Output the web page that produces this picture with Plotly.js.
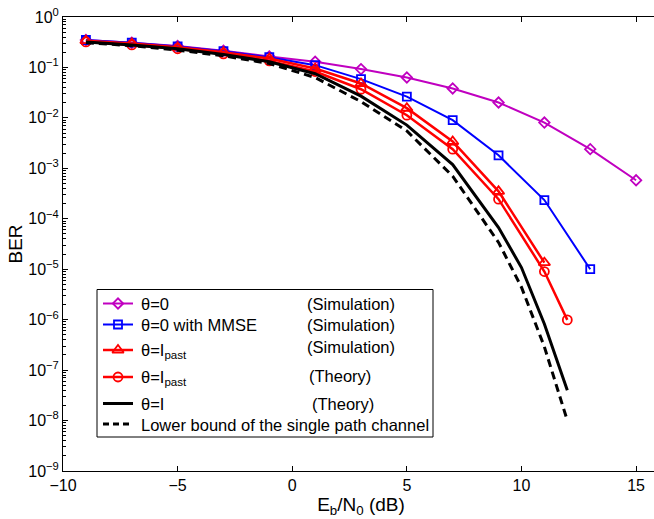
<!DOCTYPE html>
<html>
<head>
<meta charset="utf-8">
<script src="https://cdn.plot.ly/plotly-3.0.1.min.js"></script>
<style>
html,body{margin:0;padding:0;overflow:hidden;background:#fff;}
#chart{width:662px;height:519px;}
</style>
</head>
<body>
<div id="chart"></div>
<script>
// ---- data ----
const ebn0Sim = [-9, -7, -5, -3, -1, 1, 3, 5, 7, 9, 11, 13, 15];
const berTheta0 = [0.35, 0.31, 0.265, 0.215, 0.165, 0.13, 0.0927, 0.0633, 0.0383, 0.0202, 0.00807, 0.0024, 0.00058];

const ebn0Mmse = [-9, -7, -5, -3, -1, 1, 3, 5, 7, 9, 11, 13];
const berMmse = [0.35, 0.31, 0.26, 0.21, 0.16, 0.111, 0.0586, 0.0265, 0.0090, 0.00181, 2.35e-4, 1.0e-5];

const ebn0PastSim = [-9, -7, -5, -3, -1, 1, 3, 5, 7, 9, 11];
const berPastSim = [0.34, 0.30, 0.25, 0.20, 0.15, 0.0955, 0.048, 0.0156, 0.0034, 3.5e-4, 1.35e-5];

const ebn0PastTh = [-9, -7, -5, -3, -1, 1, 3, 5, 7, 9, 11, 12];
const berPastTh = [0.32, 0.28, 0.235, 0.185, 0.135, 0.083, 0.037, 0.0113, 0.0024, 2.45e-4, 9.0e-6, 9.9e-7];

const ebn0Th = [-9, -7, -5, -3, -1, 1, 3, 5, 7, 9, 10, 11, 12];
const berIdentTh = [0.32, 0.28, 0.235, 0.18, 0.13, 0.075, 0.027, 0.0072, 1.19e-3, 6.7e-5, 1.08e-5, 8.2e-7, 4.0e-8];
const berLowerBound = [0.31, 0.27, 0.22, 0.17, 0.12, 0.063, 0.021, 0.0055, 7.0e-4, 3.4e-5, 4.4e-6, 2.9e-7, 1.0e-8];

const xTickVals = [-10, -5, 0, 5, 10, 15];
const yTickVals = [1, 1e-1, 1e-2, 1e-3, 1e-4, 1e-5, 1e-6, 1e-7, 1e-8, 1e-9];
const yTickText = ['10<sup>0</sup>', '10<sup>−1</sup>', '10<sup>−2</sup>', '10<sup>−3</sup>', '10<sup>−4</sup>',
                   '10<sup>−5</sup>', '10<sup>−6</sup>', '10<sup>−7</sup>', '10<sup>−8</sup>', '10<sup>−9</sup>'];

const seriesLabels = ['θ=0', 'θ=0 with MMSE', 'θ=I<sub>past</sub>', 'θ=I<sub>past</sub>', 'θ=I', 'Lower bound of the single path channel'];
const seriesNotes = ['(Simulation)', '(Simulation)', '(Simulation)', '(Theory)', '(Theory)', ''];

// ---- styles ----
const FONT = 'Liberation Sans, Arial, Helvetica, sans-serif';
const styles = [
  {color: '#c000c0', width: 2, dash: 'solid', symbol: 'diamond-open', size: 8},
  {color: '#0000ff', width: 2, dash: 'solid', symbol: 'square-open', size: 8},
  {color: '#ff0000', width: 2.5, dash: 'solid', symbol: 'triangle-up-open', size: 10},
  {color: '#ff0000', width: 2.5, dash: 'solid', symbol: 'circle-open', size: 9},
  {color: '#000000', width: 3, dash: 'solid', symbol: null, size: 0},
  {color: '#000000', width: 3, dash: '8px,5px', symbol: null, size: 0}
];
const xs = [ebn0Sim, ebn0Mmse, ebn0PastSim, ebn0PastTh, ebn0Th, ebn0Th];
const ys = [berTheta0, berMmse, berPastSim, berPastTh, berIdentTh, berLowerBound];

const traces = [];
for (let i = 0; i < xs.length; i++) {
  const s = styles[i];
  const t = {
    x: xs[i], y: ys[i], type: 'scatter', showlegend: false,
    mode: s.symbol ? 'lines+markers' : 'lines',
    line: {color: s.color, width: s.width, dash: s.dash},
    xaxis: 'x', yaxis: 'y'
  };
  if (s.symbol) t.marker = {symbol: s.symbol, size: s.size, color: s.color, line: {color: s.color, width: 1.8}};
  traces.push(t);
}

// ---- hand-made legend (overlay axes in pixel units of the plot area) ----
const PL = 63, PR = 659, PT = 17, PB = 471;
const legendBox = {x0: 97, x1: 433, y0: 289.5, y1: 437};
const rowY = [303.5, 324.5, 350, 377, 403.5, 424];
const textY = [303.5, 324.5, 351, 378, 403.5, 424.5];
const noteX = [305, 305, 305, 307, 310, 0];
const noteY = [303.5, 324.5, 346.5, 376, 403.5, 0];
const sampleX = [103, 118, 133];
const LEG_FONT = 16.5;

const annotations = [];
for (let i = 0; i < 6; i++) {
  const s = styles[i];
  const t = {
    x: sampleX, y: [rowY[i], rowY[i], rowY[i]], type: 'scatter', showlegend: false,
    mode: s.symbol ? 'lines+markers' : 'lines',
    line: {color: s.color, width: s.width, dash: i === 5 ? '6px,4px' : 'solid'},
    xaxis: 'x2', yaxis: 'y2', hoverinfo: 'skip'
  };
  if (s.symbol) t.marker = {symbol: s.symbol, size: s.size, color: s.color, opacity: [0, 1, 0], line: {color: s.color, width: 1.8}};
  traces.push(t);
  annotations.push({xref: 'x2', yref: 'y2', x: 139, y: textY[i], text: seriesLabels[i], showarrow: false,
    xanchor: 'left', yanchor: 'middle', font: {family: FONT, size: LEG_FONT, color: '#000'}});
  if (seriesNotes[i]) annotations.push({xref: 'x2', yref: 'y2', x: noteX[i], y: noteY[i], text: seriesNotes[i], showarrow: false,
    xanchor: 'left', yanchor: 'middle', font: {family: FONT, size: LEG_FONT, color: '#000'}});
}

const layout = {
  width: 662, height: 519,
  margin: {l: PL, r: 662 - PR, t: PT, b: 519 - PB},
  paper_bgcolor: '#fff', plot_bgcolor: '#fff',
  font: {family: FONT, size: 16, color: '#000'},
  showlegend: false,
  xaxis: {
    range: [-10, 16], tickvals: xTickVals, showgrid: false, zeroline: false,
    showline: true, linecolor: '#000', linewidth: 1, mirror: 'ticks',
    ticks: 'inside', ticklen: 5, tickcolor: '#000', tickwidth: 1,
    tickfont: {family: FONT, size: 16},
    title: {text: 'E<sub>b</sub>/N<sub>0</sub> (dB)', font: {family: FONT, size: 19}, standoff: 4}
  },
  yaxis: {
    type: 'log', range: [-9, 0], tickvals: yTickVals, ticktext: yTickText,
    showgrid: false, zeroline: false,
    showline: true, linecolor: '#000', linewidth: 1, mirror: 'ticks',
    ticks: 'inside', ticklen: 5, tickcolor: '#000', tickwidth: 1,
    minor: {dtick: 'D1', ticks: 'inside', ticklen: 3, tickcolor: '#000', tickwidth: 1, showgrid: false},
    tickfont: {family: FONT, size: 16},
    title: {text: 'BER', font: {family: FONT, size: 19}, standoff: 0}
  },
  xaxis2: {overlaying: 'x', range: [PL, PR], visible: false, fixedrange: true},
  yaxis2: {overlaying: 'y', range: [PB, PT], visible: false, fixedrange: true},
  shapes: [{type: 'rect', xref: 'x2', yref: 'y2', x0: legendBox.x0, x1: legendBox.x1, y0: legendBox.y0, y1: legendBox.y1,
    line: {color: '#000', width: 1}, fillcolor: '#fff', layer: 'below'}],
  annotations: annotations
};

Plotly.newPlot('chart', traces, layout, {displayModeBar: false, staticPlot: true});
</script>
</body>
</html>
